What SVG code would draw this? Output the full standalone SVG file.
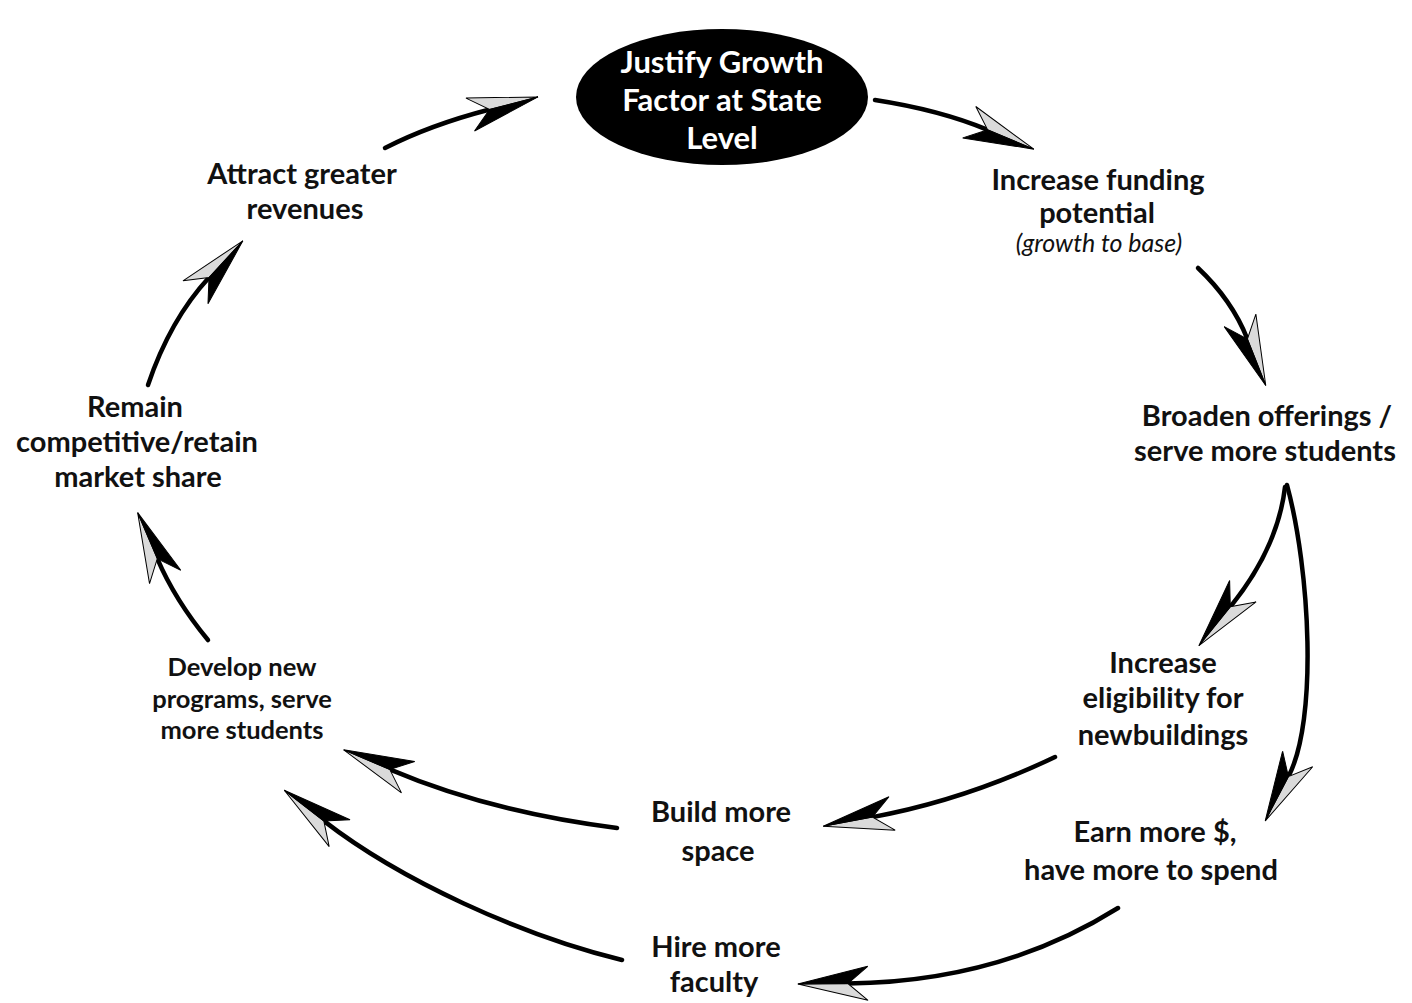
<svg xmlns="http://www.w3.org/2000/svg" width="1412" height="1003" viewBox="0 0 1412 1003">
<style>
  text { font-family: Lato, "Open Sans", "Liberation Sans", sans-serif; font-weight: bold; text-anchor: middle; fill: #111; }
  .lbl { font-size: 29px; }
  .sm { font-size: 25.5px; }
  .it { font-size: 25px; font-weight: normal; font-style: italic; }
  .wt { fill: #fff; font-size: 31px; }
  .shaft { fill: none; stroke: #000; stroke-width: 4.5; stroke-linecap: round; }
</style>
<defs>
  <marker id="ah" markerUnits="userSpaceOnUse" markerWidth="90" markerHeight="60" viewBox="-30 -30 90 60" refX="0" refY="0" orient="auto" overflow="visible">
    <path d="M50,0 L-20,-17 L0,0 Z" fill="#dadada" stroke="#000" stroke-width="1" stroke-linejoin="miter"/>
    <path d="M50,0 L0,0 L-20,17 Z" fill="#000" stroke="#000" stroke-width="1"/>
  </marker>
</defs>
<rect width="1412" height="1003" fill="#fff"/>

<g id="connectors">
  <path class="shaft" d="M385,148 Q430,125 489.6,109.5" marker-end="url(#ah)"/>
  <path class="shaft" d="M875,100 Q940,110 987.7,129.9" marker-end="url(#ah)"/>
  <path class="shaft" d="M1198,268 Q1232,300 1247.4,339" marker-end="url(#ah)"/>
  <path class="shaft" d="M1285,487 C1280,530 1260,570 1230.3,606.8" marker-end="url(#ah)"/>
  <path class="shaft" d="M1287,485 C1310,570 1318,720 1288.4,776.6" marker-end="url(#ah)"/>
  <path class="shaft" d="M1055,757 Q965,800 872.4,817.1" marker-end="url(#ah)"/>
  <path class="shaft" d="M617,828 Q490,812 389.7,769.4" marker-end="url(#ah)"/>
  <path class="shaft" d="M622,960 C520,935 400,880 323.8,820.9" marker-end="url(#ah)"/>
  <path class="shaft" d="M1118,908 Q1000,982 847.9,983.5" marker-end="url(#ah)"/>
  <path class="shaft" d="M208,640 Q175,600 157.3,558.6" marker-end="url(#ah)"/>
  <path class="shaft" d="M148,385 Q170,320 209,277.6" marker-end="url(#ah)"/>
</g>

<g id="justify">
  <ellipse cx="722" cy="97" rx="146" ry="68" fill="#000"/>
  <text class="wt" x="722" y="73">Justify Growth</text>
  <text class="wt" x="722" y="111">Factor at State</text>
  <text class="wt" x="722" y="149">Level</text>
</g>
<g id="increase-funding">
  <text class="lbl" x="1098" y="190">Increase funding</text>
  <text class="lbl" x="1097" y="223">potential</text>
  <text class="it" x="1099" y="252">(growth to base)</text>
</g>
<g id="broaden">
  <text class="lbl" x="1267" y="426">Broaden offerings /</text>
  <text class="lbl" x="1265" y="461">serve more students</text>
</g>
<g id="eligibility">
  <text class="lbl" x="1163" y="673">Increase</text>
  <text class="lbl" x="1163" y="708">eligibility for</text>
  <text class="lbl" x="1163" y="745">newbuildings</text>
</g>
<g id="earn">
  <text class="lbl" x="1155" y="842">Earn more $,</text>
  <text class="lbl" x="1151" y="880">have more to spend</text>
</g>
<g id="hire">
  <text class="lbl" x="716" y="957">Hire more</text>
  <text class="lbl" x="714" y="992">faculty</text>
</g>
<g id="build">
  <text class="lbl" x="721" y="822">Build more</text>
  <text class="lbl" x="718" y="861">space</text>
</g>
<g id="develop">
  <text class="sm" x="242" y="676">Develop new</text>
  <text class="sm" x="242" y="708">programs, serve</text>
  <text class="sm" x="242" y="739">more students</text>
</g>
<g id="remain">
  <text class="lbl" x="135" y="417">Remain</text>
  <text class="lbl" x="137" y="452">competitive/retain</text>
  <text class="lbl" x="138" y="487">market share</text>
</g>
<g id="attract">
  <text class="lbl" x="302" y="184">Attract greater</text>
  <text class="lbl" x="305" y="219">revenues</text>
</g>
</svg>
